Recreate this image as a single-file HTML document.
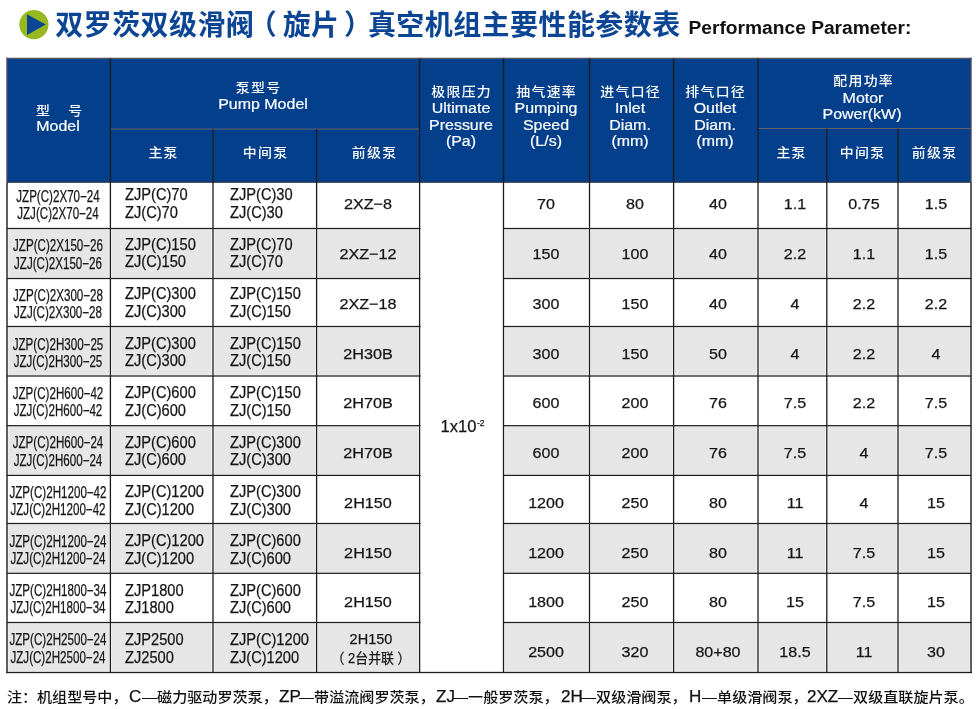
<!DOCTYPE html>
<html lang="zh-CN">
<head>
<meta charset="utf-8">
<title>双罗茨双级滑阀（旋片）真空机组主要性能参数表</title>
<style>
html,body{margin:0;padding:0;background:#fff;}
body{width:976px;height:709px;position:relative;overflow:hidden;font-family:"Liberation Sans","Noto Sans CJK SC",sans-serif;color:#1a1a1a;}
.r{position:absolute;}
.t{position:absolute;height:20px;line-height:20px;text-align:center;white-space:nowrap;font-size:15px;}
.t.l{text-align:left;}
.hc{color:#fff;font-size:12.7px;font-weight:500;letter-spacing:1.18px;padding-left:1.18px;box-sizing:border-box;transform:scaleX(1.095);}
.hl{color:#fff;font-size:15.5px;transform:scaleX(1.03);-webkit-text-stroke:0.2px #fff;}
.b{color:#151515;font-size:15px;-webkit-text-stroke:0.25px #151515;}
.c1{font-size:16px;transform:scaleX(0.725);}
.c2{font-size:16px;transform:scaleX(0.915);transform-origin:0 50%;}
.c4{transform:scaleX(1.08);}
.cj{font-size:14px;transform:scaleX(0.92);}
.c4b{transform:scaleX(0.967);}
.cn{transform:scaleX(1.07);}
.cp{font-size:16.5px;}
.sup{font-size:8.5px;position:relative;top:-6.2px;margin-left:0.5px;}
#title{position:absolute;left:55.3px;top:5.9px;height:40px;line-height:40px;font-size:28px;font-weight:700;color:#0c4594;white-space:nowrap;letter-spacing:0.42px;}
#sub{position:absolute;left:688.5px;top:15.6px;height:24px;line-height:24px;font-size:19.2px;font-weight:700;color:#111;white-space:nowrap;}
#note{position:absolute;left:7px;top:685.8px;height:22px;line-height:22px;font-size:14.2px;font-weight:500;color:#111;white-space:nowrap;width:965px;}
#note span{position:absolute;top:0;transform:scaleX(1.063);transform-origin:0 50%;}
#note .ne{font-size:15.8px;font-weight:400;-webkit-text-stroke:0.25px #111;transform:scaleX(1.08);transform-origin:0 50%;}
</style>
</head>
<body>
<svg class="r" style="left:17px;top:8px" width="34" height="34" viewBox="0 0 34 34"><circle cx="16.9" cy="16.6" r="14.6" fill="#97b81f"/><path d="M10 6.2 L28.8 16.6 L10 27 Z" fill="#0c4594"/></svg>
<div id="title">双罗茨双级滑阀<span style="position:relative;left:-5.5px">（</span>旋片<span style="position:relative;left:4.5px">）</span>真空机组主要性能参数表</div>
<div id="sub">Performance Parameter:</div>
<svg class="r" style="left:0;top:0" width="976" height="709" viewBox="0 0 976 709"><rect x="7.00" y="58.30" width="964.00" height="123.90" fill="#043f8b"/><rect x="8.30" y="229.40" width="100.80" height="48.10" fill="#e6e6e7"/><rect x="111.70" y="229.40" width="100.00" height="48.10" fill="#e6e6e7"/><rect x="214.30" y="229.40" width="101.00" height="48.10" fill="#e6e6e7"/><rect x="317.90" y="229.40" width="100.40" height="48.10" fill="#e6e6e7"/><rect x="504.80" y="229.40" width="83.40" height="48.10" fill="#e6e6e7"/><rect x="590.80" y="229.40" width="81.50" height="48.10" fill="#e6e6e7"/><rect x="674.90" y="229.40" width="81.80" height="48.10" fill="#e6e6e7"/><rect x="759.30" y="229.40" width="66.20" height="48.10" fill="#e6e6e7"/><rect x="828.10" y="229.40" width="68.60" height="48.10" fill="#e6e6e7"/><rect x="899.30" y="229.40" width="70.40" height="48.10" fill="#e6e6e7"/><rect x="8.30" y="327.40" width="100.80" height="47.60" fill="#e6e6e7"/><rect x="111.70" y="327.40" width="100.00" height="47.60" fill="#e6e6e7"/><rect x="214.30" y="327.40" width="101.00" height="47.60" fill="#e6e6e7"/><rect x="317.90" y="327.40" width="100.40" height="47.60" fill="#e6e6e7"/><rect x="504.80" y="327.40" width="83.40" height="47.60" fill="#e6e6e7"/><rect x="590.80" y="327.40" width="81.50" height="47.60" fill="#e6e6e7"/><rect x="674.90" y="327.40" width="81.80" height="47.60" fill="#e6e6e7"/><rect x="759.30" y="327.40" width="66.20" height="47.60" fill="#e6e6e7"/><rect x="828.10" y="327.40" width="68.60" height="47.60" fill="#e6e6e7"/><rect x="899.30" y="327.40" width="70.40" height="47.60" fill="#e6e6e7"/><rect x="8.30" y="426.60" width="100.80" height="47.80" fill="#e6e6e7"/><rect x="111.70" y="426.60" width="100.00" height="47.80" fill="#e6e6e7"/><rect x="214.30" y="426.60" width="101.00" height="47.80" fill="#e6e6e7"/><rect x="317.90" y="426.60" width="100.40" height="47.80" fill="#e6e6e7"/><rect x="504.80" y="426.60" width="83.40" height="47.80" fill="#e6e6e7"/><rect x="590.80" y="426.60" width="81.50" height="47.80" fill="#e6e6e7"/><rect x="674.90" y="426.60" width="81.80" height="47.80" fill="#e6e6e7"/><rect x="759.30" y="426.60" width="66.20" height="47.80" fill="#e6e6e7"/><rect x="828.10" y="426.60" width="68.60" height="47.80" fill="#e6e6e7"/><rect x="899.30" y="426.60" width="70.40" height="47.80" fill="#e6e6e7"/><rect x="8.30" y="524.40" width="100.80" height="47.90" fill="#e6e6e7"/><rect x="111.70" y="524.40" width="100.00" height="47.90" fill="#e6e6e7"/><rect x="214.30" y="524.40" width="101.00" height="47.90" fill="#e6e6e7"/><rect x="317.90" y="524.40" width="100.40" height="47.90" fill="#e6e6e7"/><rect x="504.80" y="524.40" width="83.40" height="47.90" fill="#e6e6e7"/><rect x="590.80" y="524.40" width="81.50" height="47.90" fill="#e6e6e7"/><rect x="674.90" y="524.40" width="81.80" height="47.90" fill="#e6e6e7"/><rect x="759.30" y="524.40" width="66.20" height="47.90" fill="#e6e6e7"/><rect x="828.10" y="524.40" width="68.60" height="47.90" fill="#e6e6e7"/><rect x="899.30" y="524.40" width="70.40" height="47.90" fill="#e6e6e7"/><rect x="8.30" y="623.40" width="100.80" height="48.10" fill="#e6e6e7"/><rect x="111.70" y="623.40" width="100.00" height="48.10" fill="#e6e6e7"/><rect x="214.30" y="623.40" width="101.00" height="48.10" fill="#e6e6e7"/><rect x="317.90" y="623.40" width="100.40" height="48.10" fill="#e6e6e7"/><rect x="504.80" y="623.40" width="83.40" height="48.10" fill="#e6e6e7"/><rect x="590.80" y="623.40" width="81.50" height="48.10" fill="#e6e6e7"/><rect x="674.90" y="623.40" width="81.80" height="48.10" fill="#e6e6e7"/><rect x="759.30" y="623.40" width="66.20" height="48.10" fill="#e6e6e7"/><rect x="828.10" y="623.40" width="68.60" height="48.10" fill="#e6e6e7"/><rect x="899.30" y="623.40" width="70.40" height="48.10" fill="#e6e6e7"/><rect x="6.30" y="57.70" width="965.40" height="1.2" fill="#5d5558"/><rect x="110.40" y="128.57" width="309.20" height="1" fill="#6f6468"/><rect x="758.00" y="127.95" width="213.00" height="1" fill="#6f6468"/><rect x="7.00" y="181.65" width="964.00" height="1.1" fill="#2b2b33"/><rect x="7.00" y="227.88" width="413.50" height="1.25" fill="#1c1c1c"/><rect x="503.50" y="227.88" width="467.50" height="1.25" fill="#1c1c1c"/><rect x="7.00" y="277.88" width="413.50" height="1.25" fill="#1c1c1c"/><rect x="503.50" y="277.88" width="467.50" height="1.25" fill="#1c1c1c"/><rect x="7.00" y="325.88" width="413.50" height="1.25" fill="#1c1c1c"/><rect x="503.50" y="325.88" width="467.50" height="1.25" fill="#1c1c1c"/><rect x="7.00" y="375.38" width="413.50" height="1.25" fill="#1c1c1c"/><rect x="503.50" y="375.38" width="467.50" height="1.25" fill="#1c1c1c"/><rect x="7.00" y="425.07" width="413.50" height="1.25" fill="#1c1c1c"/><rect x="503.50" y="425.07" width="467.50" height="1.25" fill="#1c1c1c"/><rect x="7.00" y="474.77" width="413.50" height="1.25" fill="#1c1c1c"/><rect x="503.50" y="474.77" width="467.50" height="1.25" fill="#1c1c1c"/><rect x="7.00" y="522.88" width="413.50" height="1.25" fill="#1c1c1c"/><rect x="503.50" y="522.88" width="467.50" height="1.25" fill="#1c1c1c"/><rect x="7.00" y="572.67" width="413.50" height="1.25" fill="#1c1c1c"/><rect x="503.50" y="572.67" width="467.50" height="1.25" fill="#1c1c1c"/><rect x="7.00" y="621.88" width="413.50" height="1.25" fill="#1c1c1c"/><rect x="503.50" y="621.88" width="467.50" height="1.25" fill="#1c1c1c"/><rect x="6.30" y="671.85" width="965.40" height="1.3" fill="#1c1c1c"/><rect x="6.30" y="57.80" width="1.4" height="124.40" fill="#4a4a5a"/><rect x="6.30" y="182.20" width="1.4" height="490.90" fill="#1c1c1c"/><rect x="970.30" y="57.80" width="1.4" height="124.40" fill="#4a4a5a"/><rect x="970.30" y="182.20" width="1.4" height="490.90" fill="#1c1c1c"/><rect x="109.75" y="58.30" width="1.3" height="614.20" fill="#1c1c1c"/><rect x="418.95" y="58.30" width="1.3" height="614.20" fill="#1c1c1c"/><rect x="502.85" y="58.30" width="1.3" height="614.20" fill="#1c1c1c"/><rect x="588.85" y="58.30" width="1.3" height="614.20" fill="#1c1c1c"/><rect x="672.95" y="58.30" width="1.3" height="614.20" fill="#1c1c1c"/><rect x="757.35" y="58.30" width="1.3" height="614.20" fill="#1c1c1c"/><rect x="212.35" y="129.07" width="1.3" height="543.43" fill="#1c1c1c"/><rect x="315.95" y="129.07" width="1.3" height="543.43" fill="#1c1c1c"/><rect x="826.15" y="128.45" width="1.3" height="544.05" fill="#1c1c1c"/><rect x="897.35" y="128.45" width="1.3" height="544.05" fill="#1c1c1c"/></svg>
<div class="t hc" style="left:-90.80px;top:101.00px;width:300px;">型<span style="display:inline-block;width:15.6px"></span>号</div>
<div class="t hl" style="left:-92.50px;top:115.80px;width:300px;">Model</div>
<div class="t hc" style="left:108.00px;top:78.40px;width:300px;">泵型号</div>
<div class="t hl" style="left:113.00px;top:94.00px;width:300px;">Pump Model</div>
<div class="t hc" style="left:13.40px;top:143.00px;width:300px;">主泵</div>
<div class="t hc" style="left:114.80px;top:143.00px;width:300px;">中间泵</div>
<div class="t hc" style="left:224.10px;top:143.00px;width:300px;">前级泵</div>
<div class="t hc" style="left:310.85px;top:81.50px;width:300px;">极限压力</div>
<div class="t hl" style="left:310.85px;top:98.00px;width:300px;">Ultimate</div>
<div class="t hl" style="left:310.85px;top:114.50px;width:300px;">Pressure</div>
<div class="t hl" style="left:310.85px;top:131.00px;width:300px;">(Pa)</div>
<div class="t hc" style="left:396.20px;top:81.50px;width:300px;">抽气速率</div>
<div class="t hl" style="left:396.20px;top:98.00px;width:300px;">Pumping</div>
<div class="t hl" style="left:396.20px;top:114.50px;width:300px;">Speed</div>
<div class="t hl" style="left:396.20px;top:131.00px;width:300px;">(L/s)</div>
<div class="t hc" style="left:480.05px;top:81.50px;width:300px;">进气口径</div>
<div class="t hl" style="left:480.05px;top:98.00px;width:300px;">Inlet</div>
<div class="t hl" style="left:480.05px;top:114.50px;width:300px;">Diam.</div>
<div class="t hl" style="left:480.05px;top:131.00px;width:300px;">(mm)</div>
<div class="t hc" style="left:564.60px;top:81.50px;width:300px;">排气口径</div>
<div class="t hl" style="left:564.60px;top:98.00px;width:300px;">Outlet</div>
<div class="t hl" style="left:564.60px;top:114.50px;width:300px;">Diam.</div>
<div class="t hl" style="left:564.60px;top:131.00px;width:300px;">(mm)</div>
<div class="t hc" style="left:712.90px;top:71.20px;width:300px;">配用功率</div>
<div class="t hl" style="left:712.90px;top:87.50px;width:300px;">Motor</div>
<div class="t hl" style="left:712.30px;top:103.50px;width:300px;">Power(kW)</div>
<div class="t hc" style="left:641.40px;top:143.00px;width:300px;">主泵</div>
<div class="t hc" style="left:712.40px;top:143.00px;width:300px;">中间泵</div>
<div class="t hc" style="left:783.50px;top:143.00px;width:300px;">前级泵</div>
<div class="t b c1" style="left:-91.90px;top:187.00px;width:300px;">JZP(C)2X70−24</div>
<div class="t b c1" style="left:-91.90px;top:204.40px;width:300px;">JZJ(C)2X70−24</div>
<div class="t l b c2" style="left:125.20px;top:185.40px;">ZJP(C)70</div>
<div class="t l b c2" style="left:125.20px;top:203.00px;">ZJ(C)70</div>
<div class="t l b c2" style="left:230.30px;top:185.40px;">ZJP(C)30</div>
<div class="t l b c2" style="left:230.30px;top:203.00px;">ZJ(C)30</div>
<div class="t b c4" style="left:217.80px;top:194.30px;width:300px;">2XZ−8</div>
<div class="t b cn" style="left:396.30px;top:194.30px;width:300px;">70</div>
<div class="t b cn" style="left:485.30px;top:194.30px;width:300px;">80</div>
<div class="t b cn" style="left:568.40px;top:194.30px;width:300px;">40</div>
<div class="t b cn" style="left:645.40px;top:194.30px;width:300px;">1.1</div>
<div class="t b cn" style="left:714.30px;top:194.30px;width:300px;">0.75</div>
<div class="t b cn" style="left:786.00px;top:194.30px;width:300px;">1.5</div>
<div class="t b c1" style="left:-91.90px;top:236.26px;width:300px;">JZP(C)2X150−26</div>
<div class="t b c1" style="left:-91.90px;top:253.66px;width:300px;">JZJ(C)2X150−26</div>
<div class="t l b c2" style="left:125.20px;top:234.82px;">ZJP(C)150</div>
<div class="t l b c2" style="left:125.20px;top:252.42px;">ZJ(C)150</div>
<div class="t l b c2" style="left:230.30px;top:234.82px;">ZJP(C)70</div>
<div class="t l b c2" style="left:230.30px;top:252.42px;">ZJ(C)70</div>
<div class="t b c4" style="left:217.80px;top:244.06px;width:300px;">2XZ−12</div>
<div class="t b cn" style="left:396.30px;top:244.06px;width:300px;">150</div>
<div class="t b cn" style="left:485.30px;top:244.06px;width:300px;">100</div>
<div class="t b cn" style="left:568.40px;top:244.06px;width:300px;">40</div>
<div class="t b cn" style="left:645.40px;top:244.06px;width:300px;">2.2</div>
<div class="t b cn" style="left:714.30px;top:244.06px;width:300px;">1.1</div>
<div class="t b cn" style="left:786.00px;top:244.06px;width:300px;">1.5</div>
<div class="t b c1" style="left:-91.90px;top:285.52px;width:300px;">JZP(C)2X300−28</div>
<div class="t b c1" style="left:-91.90px;top:302.92px;width:300px;">JZJ(C)2X300−28</div>
<div class="t l b c2" style="left:125.20px;top:284.24px;">ZJP(C)300</div>
<div class="t l b c2" style="left:125.20px;top:301.84px;">ZJ(C)300</div>
<div class="t l b c2" style="left:230.30px;top:284.24px;">ZJP(C)150</div>
<div class="t l b c2" style="left:230.30px;top:301.84px;">ZJ(C)150</div>
<div class="t b c4" style="left:217.80px;top:293.82px;width:300px;">2XZ−18</div>
<div class="t b cn" style="left:396.30px;top:293.82px;width:300px;">300</div>
<div class="t b cn" style="left:485.30px;top:293.82px;width:300px;">150</div>
<div class="t b cn" style="left:568.40px;top:293.82px;width:300px;">40</div>
<div class="t b cn" style="left:645.40px;top:293.82px;width:300px;">4</div>
<div class="t b cn" style="left:714.30px;top:293.82px;width:300px;">2.2</div>
<div class="t b cn" style="left:786.00px;top:293.82px;width:300px;">2.2</div>
<div class="t b c1" style="left:-91.90px;top:334.78px;width:300px;">JZP(C)2H300−25</div>
<div class="t b c1" style="left:-91.90px;top:352.18px;width:300px;">JZJ(C)2H300−25</div>
<div class="t l b c2" style="left:125.20px;top:333.66px;">ZJP(C)300</div>
<div class="t l b c2" style="left:125.20px;top:351.26px;">ZJ(C)300</div>
<div class="t l b c2" style="left:230.30px;top:333.66px;">ZJP(C)150</div>
<div class="t l b c2" style="left:230.30px;top:351.26px;">ZJ(C)150</div>
<div class="t b c4" style="left:217.80px;top:343.58px;width:300px;">2H30B</div>
<div class="t b cn" style="left:396.30px;top:343.58px;width:300px;">300</div>
<div class="t b cn" style="left:485.30px;top:343.58px;width:300px;">150</div>
<div class="t b cn" style="left:568.40px;top:343.58px;width:300px;">50</div>
<div class="t b cn" style="left:645.40px;top:343.58px;width:300px;">4</div>
<div class="t b cn" style="left:714.30px;top:343.58px;width:300px;">2.2</div>
<div class="t b cn" style="left:786.00px;top:343.58px;width:300px;">4</div>
<div class="t b c1" style="left:-91.90px;top:384.04px;width:300px;">JZP(C)2H600−42</div>
<div class="t b c1" style="left:-91.90px;top:401.44px;width:300px;">JZJ(C)2H600−42</div>
<div class="t l b c2" style="left:125.20px;top:383.08px;">ZJP(C)600</div>
<div class="t l b c2" style="left:125.20px;top:400.68px;">ZJ(C)600</div>
<div class="t l b c2" style="left:230.30px;top:383.08px;">ZJP(C)150</div>
<div class="t l b c2" style="left:230.30px;top:400.68px;">ZJ(C)150</div>
<div class="t b c4" style="left:217.80px;top:393.34px;width:300px;">2H70B</div>
<div class="t b cn" style="left:396.30px;top:393.34px;width:300px;">600</div>
<div class="t b cn" style="left:485.30px;top:393.34px;width:300px;">200</div>
<div class="t b cn" style="left:568.40px;top:393.34px;width:300px;">76</div>
<div class="t b cn" style="left:645.40px;top:393.34px;width:300px;">7.5</div>
<div class="t b cn" style="left:714.30px;top:393.34px;width:300px;">2.2</div>
<div class="t b cn" style="left:786.00px;top:393.34px;width:300px;">7.5</div>
<div class="t b c1" style="left:-91.90px;top:433.30px;width:300px;">JZP(C)2H600−24</div>
<div class="t b c1" style="left:-91.90px;top:450.70px;width:300px;">JZJ(C)2H600−24</div>
<div class="t l b c2" style="left:125.20px;top:432.50px;">ZJP(C)600</div>
<div class="t l b c2" style="left:125.20px;top:450.10px;">ZJ(C)600</div>
<div class="t l b c2" style="left:230.30px;top:432.50px;">ZJP(C)300</div>
<div class="t l b c2" style="left:230.30px;top:450.10px;">ZJ(C)300</div>
<div class="t b c4" style="left:217.80px;top:443.10px;width:300px;">2H70B</div>
<div class="t b cn" style="left:396.30px;top:443.10px;width:300px;">600</div>
<div class="t b cn" style="left:485.30px;top:443.10px;width:300px;">200</div>
<div class="t b cn" style="left:568.40px;top:443.10px;width:300px;">76</div>
<div class="t b cn" style="left:645.40px;top:443.10px;width:300px;">7.5</div>
<div class="t b cn" style="left:714.30px;top:443.10px;width:300px;">4</div>
<div class="t b cn" style="left:786.00px;top:443.10px;width:300px;">7.5</div>
<div class="t b c1" style="left:-91.90px;top:482.56px;width:300px;">JZP(C)2H1200−42</div>
<div class="t b c1" style="left:-91.90px;top:499.96px;width:300px;">JZJ(C)2H1200−42</div>
<div class="t l b c2" style="left:125.20px;top:481.92px;">ZJP(C)1200</div>
<div class="t l b c2" style="left:125.20px;top:499.52px;">ZJ(C)1200</div>
<div class="t l b c2" style="left:230.30px;top:481.92px;">ZJP(C)300</div>
<div class="t l b c2" style="left:230.30px;top:499.52px;">ZJ(C)300</div>
<div class="t b c4" style="left:217.80px;top:492.86px;width:300px;">2H150</div>
<div class="t b cn" style="left:396.30px;top:492.86px;width:300px;">1200</div>
<div class="t b cn" style="left:485.30px;top:492.86px;width:300px;">250</div>
<div class="t b cn" style="left:568.40px;top:492.86px;width:300px;">80</div>
<div class="t b cn" style="left:645.40px;top:492.86px;width:300px;">11</div>
<div class="t b cn" style="left:714.30px;top:492.86px;width:300px;">4</div>
<div class="t b cn" style="left:786.00px;top:492.86px;width:300px;">15</div>
<div class="t b c1" style="left:-91.90px;top:531.82px;width:300px;">JZP(C)2H1200−24</div>
<div class="t b c1" style="left:-91.90px;top:549.22px;width:300px;">JZJ(C)2H1200−24</div>
<div class="t l b c2" style="left:125.20px;top:531.34px;">ZJP(C)1200</div>
<div class="t l b c2" style="left:125.20px;top:548.94px;">ZJ(C)1200</div>
<div class="t l b c2" style="left:230.30px;top:531.34px;">ZJP(C)600</div>
<div class="t l b c2" style="left:230.30px;top:548.94px;">ZJ(C)600</div>
<div class="t b c4" style="left:217.80px;top:542.62px;width:300px;">2H150</div>
<div class="t b cn" style="left:396.30px;top:542.62px;width:300px;">1200</div>
<div class="t b cn" style="left:485.30px;top:542.62px;width:300px;">250</div>
<div class="t b cn" style="left:568.40px;top:542.62px;width:300px;">80</div>
<div class="t b cn" style="left:645.40px;top:542.62px;width:300px;">11</div>
<div class="t b cn" style="left:714.30px;top:542.62px;width:300px;">7.5</div>
<div class="t b cn" style="left:786.00px;top:542.62px;width:300px;">15</div>
<div class="t b c1" style="left:-91.90px;top:581.08px;width:300px;">JZP(C)2H1800−34</div>
<div class="t b c1" style="left:-91.90px;top:598.48px;width:300px;">JZJ(C)2H1800−34</div>
<div class="t l b c2" style="left:125.20px;top:580.76px;">ZJP1800</div>
<div class="t l b c2" style="left:125.20px;top:598.36px;">ZJ1800</div>
<div class="t l b c2" style="left:230.30px;top:580.76px;">ZJP(C)600</div>
<div class="t l b c2" style="left:230.30px;top:598.36px;">ZJ(C)600</div>
<div class="t b c4" style="left:217.80px;top:592.38px;width:300px;">2H150</div>
<div class="t b cn" style="left:396.30px;top:592.38px;width:300px;">1800</div>
<div class="t b cn" style="left:485.30px;top:592.38px;width:300px;">250</div>
<div class="t b cn" style="left:568.40px;top:592.38px;width:300px;">80</div>
<div class="t b cn" style="left:645.40px;top:592.38px;width:300px;">15</div>
<div class="t b cn" style="left:714.30px;top:592.38px;width:300px;">7.5</div>
<div class="t b cn" style="left:786.00px;top:592.38px;width:300px;">15</div>
<div class="t b c1" style="left:-91.90px;top:630.34px;width:300px;">JZP(C)2H2500−24</div>
<div class="t b c1" style="left:-91.90px;top:647.74px;width:300px;">JZJ(C)2H2500−24</div>
<div class="t l b c2" style="left:125.20px;top:630.18px;">ZJP2500</div>
<div class="t l b c2" style="left:125.20px;top:647.78px;">ZJ2500</div>
<div class="t l b c2" style="left:230.30px;top:630.18px;">ZJP(C)1200</div>
<div class="t l b c2" style="left:230.30px;top:647.78px;">ZJ(C)1200</div>
<div class="t b c4b" style="left:220.70px;top:629.10px;width:300px;">2H150</div>
<div class="t b cj" style="left:220.75px;top:648.40px;width:300px;">（<span style="margin:0 4px">2台并联</span>）</div>
<div class="t b cn" style="left:396.30px;top:642.14px;width:300px;">2500</div>
<div class="t b cn" style="left:485.30px;top:642.14px;width:300px;">320</div>
<div class="t b cn" style="left:568.40px;top:642.14px;width:300px;">80+80</div>
<div class="t b cn" style="left:645.40px;top:642.14px;width:300px;">18.5</div>
<div class="t b cn" style="left:714.30px;top:642.14px;width:300px;">11</div>
<div class="t b cn" style="left:786.00px;top:642.14px;width:300px;">30</div>
<div class="t l b cp" style="left:440.60px;top:416.20px;">1x10<span class="sup">-2</span></div>
<div id="note"><span class="nj" style="left:0.3px">注：</span><span class="nj" style="left:30.4px">机组型号中，</span><span class="ne" style="left:121.7px">C</span><span class="nj" style="left:135.4px">—磁力驱动罗茨泵，</span><span class="ne" style="left:271.6px">ZP</span><span class="nj" style="left:292.0px">—带溢流阀罗茨泵，</span><span class="ne" style="left:429.1px">ZJ</span><span class="nj" style="left:446.2px">—一般罗茨泵，</span><span class="ne" style="left:553.7px">2H</span><span class="nj" style="left:573.7px">—双级滑阀泵，</span><span class="ne" style="left:681.9px">H</span><span class="nj" style="left:695.0px">—单级滑阀泵，</span><span class="ne" style="left:799.9px">2XZ</span><span class="nj" style="left:831.2px">—双级直联旋片泵。</span></div>
</body>
</html>
